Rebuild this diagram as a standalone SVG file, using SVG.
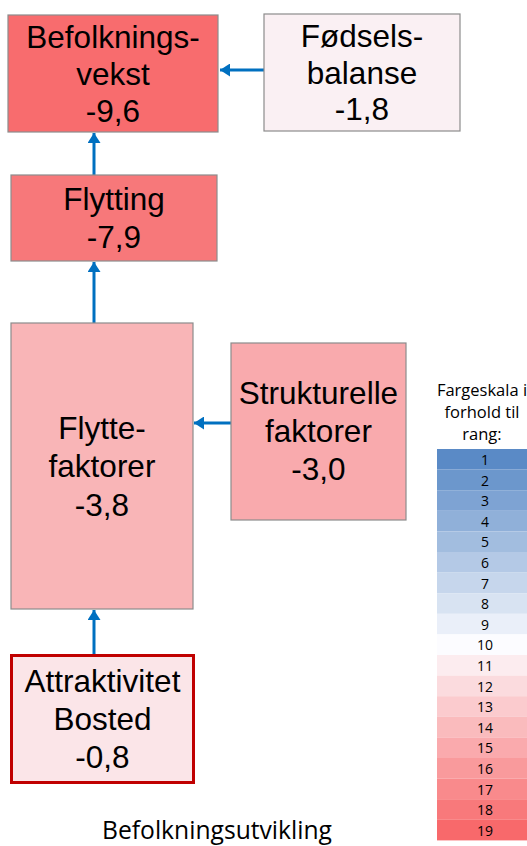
<svg xmlns="http://www.w3.org/2000/svg" width="527" height="846" viewBox="0 0 527 846">
<style>
.box{stroke:#8C8C8C;stroke-width:1.2}
.lbl{font-family:"Liberation Sans",Arial,sans-serif;font-size:31.5px;fill:#000;text-anchor:middle}
.conn{stroke:#0070C0;stroke-width:3;fill:none}
.cal{font-family:"Open Sans","Noto Sans",sans-serif;fill:#000;text-anchor:middle}
.leg{font-size:14px}
</style>
<defs>
<marker id="ah" markerUnits="userSpaceOnUse" markerWidth="11" markerHeight="13" refX="10" refY="6.5" orient="auto">
<path d="M0,0 L10,6.5 L0,13 z" fill="#0070C0"/>
</marker>
</defs>
<rect width="527" height="846" fill="#fff"/>
<g id="connectors">
<line class="conn" x1="264" y1="70" x2="220" y2="70" marker-end="url(#ah)"/>
<line class="conn" x1="94" y1="175" x2="94" y2="133" marker-end="url(#ah)"/>
<line class="conn" x1="94" y1="323" x2="94" y2="262" marker-end="url(#ah)"/>
<line class="conn" x1="231" y1="423" x2="194" y2="423" marker-end="url(#ah)"/>
<line class="conn" x1="94" y1="654" x2="94" y2="610" marker-end="url(#ah)"/>
</g>
<g id="befolkningsvekst">
<rect class="box" x="8" y="15" width="210" height="117" fill="#F86C6E"/>
<text class="lbl"><tspan x="113" y="48">Befolknings-</tspan><tspan x="113" y="85">vekst</tspan><tspan x="113" y="122">-9,6</tspan></text>
</g>
<g id="fodselsbalanse">
<rect class="box" x="264" y="14" width="196" height="117" fill="#FAF0F3"/>
<text class="lbl"><tspan x="362" y="47">Fødsels-</tspan><tspan x="362" y="84">balanse</tspan><tspan x="362" y="120">-1,8</tspan></text>
</g>
<g id="flytting">
<rect class="box" x="11" y="175" width="206" height="86" fill="#F7787A"/>
<text class="lbl"><tspan x="114" y="210">Flytting</tspan><tspan x="114" y="248">-7,9</tspan></text>
</g>
<g id="flyttefaktorer">
<rect class="box" x="11" y="323" width="182" height="286" fill="#F9B5B7"/>
<text class="lbl"><tspan x="102" y="439">Flytte-</tspan><tspan x="102" y="477">faktorer</tspan><tspan x="102" y="516">-3,8</tspan></text>
</g>
<g id="strukturelle">
<rect class="box" x="231" y="343" width="175" height="177" fill="#F9AAAD"/>
<text class="lbl"><tspan x="318.5" y="404">Strukturelle</tspan><tspan x="318.5" y="442">faktorer</tspan><tspan x="318.5" y="480">-3,0</tspan></text>
</g>
<g id="attraktivitet">
<rect x="11.5" y="655.5" width="182" height="127" fill="#FBE5E8" stroke="#C00000" stroke-width="3"/>
<text class="lbl"><tspan x="102.5" y="692">Attraktivitet</tspan><tspan x="102.5" y="730">Bosted</tspan><tspan x="102.5" y="768">-0,8</tspan></text>
</g>
<text class="cal" x="217" y="839" font-size="25" textLength="230" lengthAdjust="spacingAndGlyphs">Befolkningsutvikling</text>
<g id="legend">
<text class="cal" font-size="16.5"><tspan x="482" y="396">Fargeskala i</tspan><tspan x="482" y="418">forhold til</tspan><tspan x="482" y="440">rang:</tspan></text>
<rect x="437" y="449" width="90" height="20.6" fill="#5A8AC6"/>
<rect x="437" y="469.6" width="90" height="20.6" fill="#6C97CC"/>
<rect x="437" y="490.2" width="90" height="20.6" fill="#7EA3D3"/>
<rect x="437" y="510.8" width="90" height="20.6" fill="#90B0D9"/>
<rect x="437" y="531.4" width="90" height="20.6" fill="#A2BDDF"/>
<rect x="437" y="552" width="90" height="20.6" fill="#B4C9E6"/>
<rect x="437" y="572.6" width="90" height="20.6" fill="#C6D6EC"/>
<rect x="437" y="593.2" width="90" height="20.6" fill="#D8E3F2"/>
<rect x="437" y="613.8" width="90" height="20.6" fill="#EAEFF9"/>
<rect x="437" y="634.4" width="90" height="20.6" fill="#FCFCFF"/>
<rect x="437" y="655" width="90" height="20.6" fill="#FCECEF"/>
<rect x="437" y="675.6" width="90" height="20.6" fill="#FBDBDE"/>
<rect x="437" y="696.2" width="90" height="20.6" fill="#FBCBCE"/>
<rect x="437" y="716.8" width="90" height="20.6" fill="#FABBBD"/>
<rect x="437" y="737.4" width="90" height="20.6" fill="#FAAAAD"/>
<rect x="437" y="758" width="90" height="20.6" fill="#F99A9C"/>
<rect x="437" y="778.6" width="90" height="20.6" fill="#F98A8C"/>
<rect x="437" y="799.2" width="90" height="20.6" fill="#F8797B"/>
<rect x="437" y="819.8" width="90" height="20.6" fill="#F8696B"/>
<g class="cal leg">
<text x="485" y="465">1</text>
<text x="485" y="485.6">2</text>
<text x="485" y="506.2">3</text>
<text x="485" y="526.8">4</text>
<text x="485" y="547.4">5</text>
<text x="485" y="568">6</text>
<text x="485" y="588.6">7</text>
<text x="485" y="609.2">8</text>
<text x="485" y="629.8">9</text>
<text x="485" y="650.4">10</text>
<text x="485" y="671">11</text>
<text x="485" y="691.6">12</text>
<text x="485" y="712.2">13</text>
<text x="485" y="732.8">14</text>
<text x="485" y="753.4">15</text>
<text x="485" y="774">16</text>
<text x="485" y="794.6">17</text>
<text x="485" y="815.2">18</text>
<text x="485" y="835.8">19</text>
</g>
</g>
</svg>
